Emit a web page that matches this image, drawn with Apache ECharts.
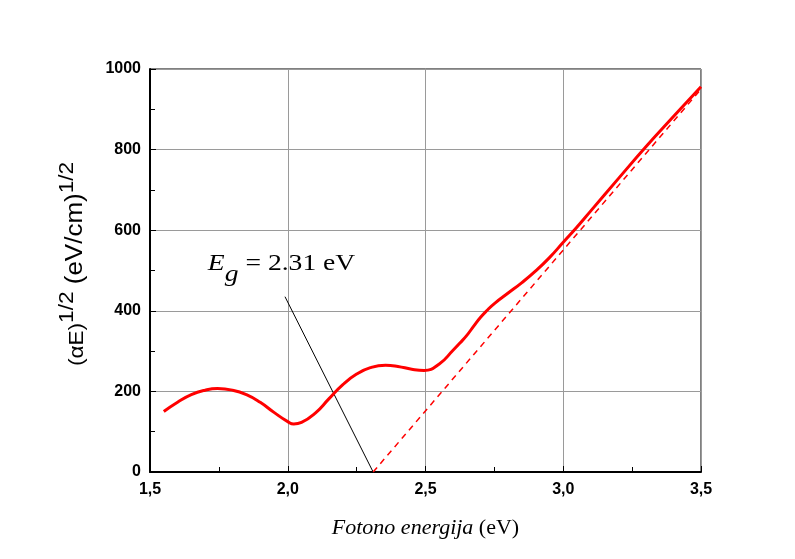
<!DOCTYPE html>
<html><head><meta charset="utf-8">
<script src="https://cdn.jsdelivr.net/npm/echarts@6/dist/echarts.min.js"></script>
<style>html,body{margin:0;padding:0;background:#fff}#c{width:795px;height:559px}</style>
</head><body><div id="c"></div>
<script>
// Photon energy (eV) and (alpha E)^1/2 values
const energy = [1.55,1.6,1.65,1.7,1.745,1.8,1.85,1.9,1.95,2.0,2.022,2.05,2.1,2.15,2.2,2.25,2.3,2.355,2.4,2.45,2.495,2.55,2.6,2.625,2.65,2.675,2.7,2.725,2.75,2.8,2.85,2.9,2.95,3.0,3.05,3.1,3.2,3.3,3.4,3.5];
const absorption = [150,173,192,203,207,203,192,173,148,125,119,123,146,182,217,243,259,265,262,255,252,268,302,320,339,362,384,402,418,444,470,499,532,570,608,648,728,807,882,956];
// Linear extrapolation (dashed) to the band gap
const fitEnergy = [2.31, 3.5];
const fitValue = [0, 950];
// Pointer line from the band gap to the label
const pointerEnergy = [2.31, 1.99];
const pointerValue = [0, 435];
// Label anchor (data coordinates)
const labelAnchor = [1.71, 545];
// Axis ranges
const xRange = [1.5, 3.5, 0.5];
const yRange = [0, 1000, 200];

const chart = echarts.init(document.getElementById('c'));
const zip = (a, b) => a.map((v, i) => [v, b[i]]);
const axisCommon = {
  axisLine: { show: true, onZero: false, lineStyle: { color: '#000', width: 2 } },
  axisTick: { show: true, inside: true, length: 6, lineStyle: { color: '#000', width: 1 } },
  minorTick: { show: true, splitNumber: 2, length: 5, lineStyle: { color: '#000', width: 1 } },
  splitLine: { show: true, lineStyle: { color: '#9a9a9a', width: 1 } },
};
chart.setOption({
  animation: false,
  backgroundColor: '#fff',
  grid: { left: 150, right: 94, top: 69, bottom: 87, show: true, borderColor: '#000', borderWidth: 1, backgroundColor: 'transparent' },
  xAxis: Object.assign({
    type: 'value', min: xRange[0], max: xRange[1], interval: xRange[2],
    axisLabel: { fontFamily: 'Liberation Sans', fontWeight: 'bold', fontSize: 16, color: '#000', margin: 10,
      formatter: v => v.toFixed(1).replace('.', ',') },
    name: '{i|Fotono energija}{n| (eV)}', nameLocation: 'middle', nameGap: 45,
    nameTextStyle: { rich: {
      i: { fontFamily: 'Liberation Serif', fontStyle: 'italic', fontSize: 22, color: '#000' },
      n: { fontFamily: 'Liberation Serif', fontSize: 22, color: '#000' } } }
  }, axisCommon),
  yAxis: Object.assign({
    type: 'value', min: yRange[0], max: yRange[1], interval: yRange[2],
    axisLabel: { fontFamily: 'Liberation Sans', fontWeight: 'bold', fontSize: 16, color: '#000', margin: 9,
      formatter: v => String(v) }
  }, axisCommon),
  series: [
    { type: 'line', data: zip(energy, absorption), smooth: 0.5, showSymbol: false,
      lineStyle: { color: '#ff0000', width: 3 }, z: 5 },
    { type: 'line', data: zip(fitEnergy, fitValue), showSymbol: false,
      lineStyle: { color: '#ff0000', width: 1.5, type: [6, 5] }, z: 4 },
    { type: 'line', data: zip(pointerEnergy, pointerValue), showSymbol: false,
      lineStyle: { color: '#000', width: 1 }, z: 3 }
  ]
});

const p = chart.convertToPixel({ gridIndex: 0 }, labelAnchor);
chart.setOption({
  graphic: [
    { type: 'text', x: p[0], y: p[1], scaleX: 1.2, z: 10,
      style: { text: '{E|E}{g|g}{t| = 2.31 eV}', align: 'left', verticalAlign: 'top',
        rich: {
          E: { fontFamily: 'Liberation Serif', fontStyle: 'italic', fontSize: 23, lineHeight: 24, verticalAlign: 'top', fill: '#000' },
          g: { fontFamily: 'Liberation Serif', fontStyle: 'italic', fontSize: 23, lineHeight: 34, verticalAlign: 'bottom', fill: '#000' },
          t: { fontFamily: 'Liberation Serif', fontSize: 23, lineHeight: 24, verticalAlign: 'top', fill: '#000' }
        } } },
    { type: 'text', x: 72, y: 264, rotation: Math.PI / 2, scaleX: 1.13, z: 10,
      style: { text: '{a|(αE)}{s|1/2}{b| (eV/cm)}{s|1/2}', align: 'center', verticalAlign: 'middle',
        rich: {
          a: { fontFamily: 'Liberation Sans', fontSize: 20, lineHeight: 30, verticalAlign: 'bottom', fill: '#000' },
          b: { fontFamily: 'Liberation Sans', fontSize: 23, lineHeight: 30, verticalAlign: 'bottom', fill: '#000' },
          s: { fontFamily: 'Liberation Sans', fontSize: 20, lineHeight: 14, verticalAlign: 'top', fill: '#000' }
        } } }
  ]
});
</script></body></html>
